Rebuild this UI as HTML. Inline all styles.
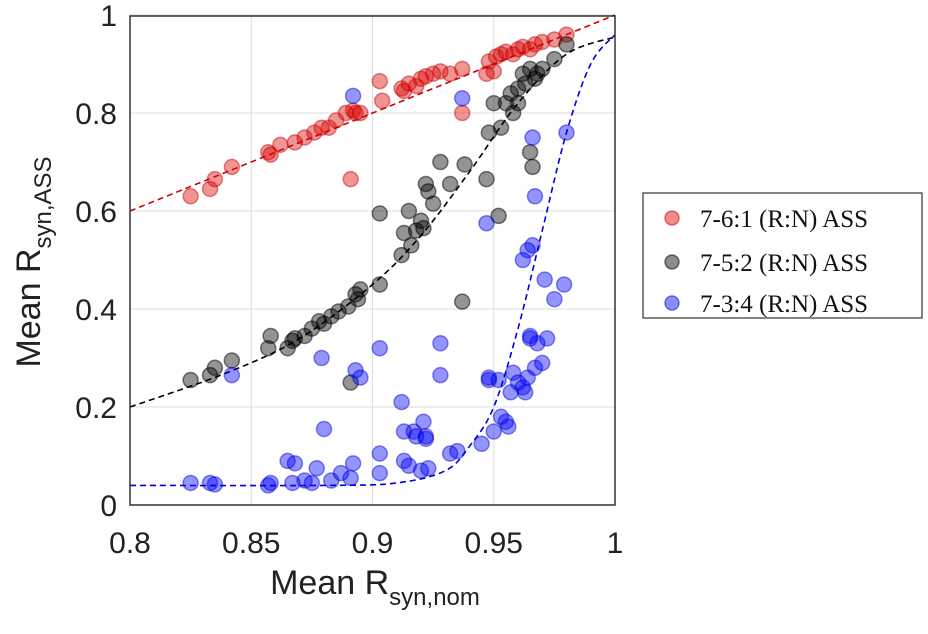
<!DOCTYPE html>
<html><head><meta charset="utf-8"><style>
body{margin:0;background:#fff;}
svg text{font-family:"Liberation Sans",Arial,sans-serif;}
</style></head><body>
<svg id="chart" width="928" height="629" xmlns="http://www.w3.org/2000/svg">
<g id="grid"></g>
<g id="fits"></g>
<g id="pts"></g>
<rect x="130" y="16" width="485" height="489" fill="none" stroke="#333" stroke-width="1.5"/>
<g id="ticks"></g>
<text x="375" y="594" font-size="34" text-anchor="middle" fill="#222">Mean R<tspan font-size="24" dy="11">syn,nom</tspan></text>
<text transform="translate(40,262) rotate(-90)" font-size="34" text-anchor="middle" fill="#222">Mean R<tspan font-size="24" dy="11">syn,ASS</tspan></text>
<g>
<rect x="643" y="193" width="279" height="125" fill="#fff" stroke="#333" stroke-width="1.2"/>
<g><circle cx="672" cy="218" r="7" fill="rgba(220,0,0,0.45)" stroke="rgba(200,0,0,0.5)" stroke-width="1.5"/><text x="700" y="227" font-size="25" style="font-family:'Liberation Serif',serif" fill="#111">7-6:1 (R:N) ASS</text></g>
<g><circle cx="672" cy="262" r="7" fill="rgba(0,0,0,0.45)" stroke="rgba(0,0,0,0.5)" stroke-width="1.5"/><text x="700" y="271" font-size="25" style="font-family:'Liberation Serif',serif" fill="#111">7-5:2 (R:N) ASS</text></g>
<g><circle cx="672" cy="303" r="7" fill="rgba(0,0,255,0.45)" stroke="rgba(0,0,220,0.5)" stroke-width="1.5"/><text x="700" y="312" font-size="25" style="font-family:'Liberation Serif',serif" fill="#111">7-3:4 (R:N) ASS</text></g>
</g>
</svg>
<script>
const xTicks=[0.8,0.85,0.9,0.95,1];
const xTickLabels=["0.8","0.85","0.9","0.95","1"];
const yTicks=[0,0.2,0.4,0.6,0.8,1];
const yTickLabels=["0","0.2","0.4","0.6","0.8","1"];
const redX=[0.825,0.833,0.835,0.842,0.857,0.858,0.862,0.868,0.872,0.876,0.879,0.882,0.885,0.889,0.892,0.893,0.895,0.891,0.903,0.904,0.912,0.913,0.915,0.918,0.92,0.922,0.925,0.928,0.932,0.937,0.937,0.948,0.95,0.951,0.953,0.955,0.958,0.96,0.962,0.965,0.967,0.97,0.975,0.98,0.947];
const redY=[0.63,0.645,0.665,0.69,0.72,0.715,0.735,0.74,0.75,0.76,0.77,0.77,0.785,0.8,0.805,0.8,0.8,0.665,0.865,0.825,0.85,0.845,0.86,0.855,0.87,0.875,0.88,0.885,0.88,0.89,0.8,0.905,0.885,0.915,0.92,0.925,0.92,0.93,0.935,0.93,0.94,0.945,0.95,0.96,0.88];
const blackX=[0.825,0.833,0.835,0.842,0.857,0.858,0.865,0.867,0.868,0.872,0.875,0.878,0.88,0.883,0.886,0.89,0.891,0.893,0.894,0.895,0.903,0.903,0.912,0.913,0.915,0.916,0.918,0.92,0.921,0.922,0.923,0.925,0.928,0.932,0.937,0.938,0.947,0.948,0.95,0.952,0.953,0.955,0.957,0.958,0.96,0.962,0.963,0.965,0.967,0.968,0.97,0.965,0.966,0.975,0.98,0.96];
const blackY=[0.255,0.265,0.28,0.295,0.32,0.345,0.32,0.335,0.34,0.345,0.36,0.375,0.37,0.385,0.395,0.405,0.25,0.43,0.42,0.44,0.45,0.595,0.51,0.555,0.6,0.53,0.56,0.58,0.565,0.655,0.64,0.615,0.7,0.655,0.415,0.695,0.665,0.76,0.82,0.59,0.77,0.82,0.84,0.8,0.82,0.88,0.86,0.89,0.87,0.88,0.89,0.72,0.69,0.91,0.94,0.85];
const blueX=[0.825,0.833,0.835,0.842,0.857,0.858,0.865,0.867,0.868,0.872,0.875,0.877,0.88,0.879,0.883,0.887,0.891,0.892,0.892,0.893,0.895,0.903,0.903,0.903,0.912,0.913,0.913,0.915,0.917,0.918,0.92,0.921,0.922,0.922,0.923,0.928,0.928,0.932,0.935,0.937,0.945,0.947,0.948,0.948,0.95,0.952,0.953,0.955,0.956,0.957,0.958,0.96,0.962,0.963,0.964,0.965,0.965,0.966,0.967,0.966,0.967,0.968,0.97,0.971,0.972,0.975,0.979,0.98,0.962,0.964];
const blueY=[0.045,0.045,0.042,0.265,0.04,0.045,0.09,0.045,0.085,0.05,0.045,0.075,0.155,0.3,0.05,0.065,0.055,0.085,0.835,0.275,0.26,0.32,0.065,0.105,0.21,0.09,0.15,0.08,0.15,0.14,0.07,0.17,0.14,0.135,0.075,0.33,0.265,0.105,0.11,0.83,0.125,0.575,0.255,0.26,0.15,0.255,0.18,0.17,0.16,0.23,0.27,0.25,0.24,0.23,0.26,0.34,0.345,0.53,0.63,0.75,0.28,0.33,0.29,0.46,0.34,0.42,0.45,0.76,0.5,0.52];
const redFitX=[0.8,1];
const redFitY=[0.6,1];
const blackFitX=[0.8,0.84,0.87,0.9,0.92,0.94,0.96,0.98,1];
const blackFitY=[0.2,0.27,0.34,0.45,0.55,0.68,0.82,0.92,0.955];
const blueFitX=[0.8,0.88,0.91,0.93,0.94,0.95,0.96,0.97,0.98,0.99,1];
const blueFitY=[0.04,0.04,0.045,0.07,0.12,0.2,0.36,0.56,0.76,0.9,0.96];

const X0=130,X1=615,Y0=505,Y1=15;
function sx(v){return X0+(v-0.8)/0.2*(X1-X0);}
function sy(v){return Y0-v*(Y0-Y1);}
const NS="http://www.w3.org/2000/svg";
function mk(t,a,p){const e=document.createElementNS(NS,t);for(const k in a)e.setAttribute(k,a[k]);p.appendChild(e);return e;}
const grid=document.getElementById('grid'),ticks=document.getElementById('ticks');
xTicks.forEach((v,i)=>{
 const l=mk('line',{x1:sx(v),x2:sx(v),y1:16,y2:505,stroke:'#ddd','stroke-width':1},grid);
 
 
 const t=mk('text',{x:sx(v),y:553,'font-size':30,'text-anchor':'middle',fill:'#222'},ticks);
 t.textContent=xTickLabels[i];
 
 
});
yTicks.forEach((v,i)=>{
 const l=mk('line',{x1:130,x2:615,y1:sy(v),y2:sy(v),stroke:'#ddd','stroke-width':1},grid);
 
 
 const t=mk('text',{x:117,y:sy(v)+11,'font-size':30,'text-anchor':'end',fill:'#222'},ticks);
 t.textContent=yTickLabels[i];
 
 
});
function smooth(xs,ys){
 const P=xs.map((x,i)=>[sx(x),sy(ys[i])]);
 let d='M'+P[0][0]+','+P[0][1];
 for(let i=0;i<P.length-1;i++){
  const p0=P[Math.max(0,i-1)],p1=P[i],p2=P[i+1],p3=P[Math.min(P.length-1,i+2)];
  const c1=[p1[0]+(p2[0]-p0[0])/6,p1[1]+(p2[1]-p0[1])/6],c2=[p2[0]-(p3[0]-p1[0])/6,p2[1]-(p3[1]-p1[1])/6];
  d+=` C${c1[0]},${c1[1]} ${c2[0]},${c2[1]} ${p2[0]},${p2[1]}`;
 }
 return d;
}
const fits=document.getElementById('fits');
[[redFitX,redFitY,'#d00000','red-fit-line'],[blackFitX,blackFitY,'#000','black-fit-line'],[blueFitX,blueFitY,'#0000e0','blue-fit-line']].forEach(f=>{
 const p=mk('path',{d:smooth(f[0],f[1]),fill:'none',stroke:f[2],'stroke-width':1.6,'stroke-dasharray':'6,4'},fits);
 
 
});
const pts=document.getElementById('pts');
[[redX,redY,'rgba(220,0,0,0.42)','rgba(190,0,0,0.45)','red-point'],[blackX,blackY,'rgba(0,0,0,0.42)','rgba(0,0,0,0.5)','black-point'],[blueX,blueY,'rgba(0,0,255,0.42)','rgba(0,0,200,0.45)','blue-point']].forEach(s=>{
 s[0].forEach((x,i)=>{
  const c=mk('circle',{cx:sx(x),cy:sy(s[1][i]),r:7.5,fill:s[2],stroke:s[3],'stroke-width':1.5},pts);
  
  
 });
});
</script>
</body></html>
